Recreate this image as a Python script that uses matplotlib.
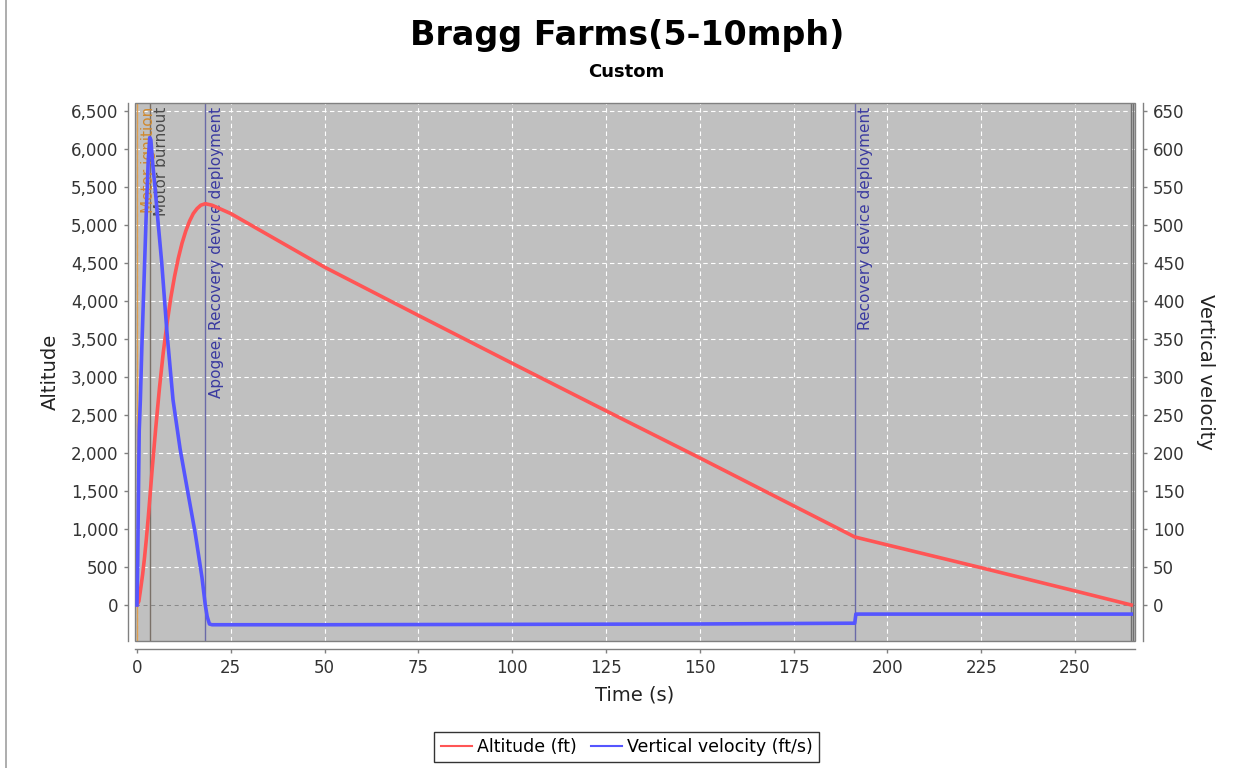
import numpy as np
import matplotlib
matplotlib.use('Agg')
import matplotlib.pyplot as plt
from matplotlib.ticker import FuncFormatter, MultipleLocator
from matplotlib.patches import Rectangle
from matplotlib.lines import Line2D

plt.rcParams['font.family'] = ['DejaVu Sans']

# altitude (ft)
alt_t = [0, 0.5, 1.0, 1.5, 2.0, 2.5, 3.0, 3.5, 4.0, 5.0, 6.0, 7.0, 8.0, 9.0, 10.0, 11.0,
         12.0, 13.0, 14.0, 15.0, 16.0, 17.0, 18.2, 20, 25, 50, 75, 100, 125, 150, 175,
         191.3, 200, 225, 250, 265]
alt_ft = [0, 50, 220, 400, 620, 870, 1150, 1450, 1760, 2330, 2860, 3320, 3700, 4040, 4320, 4560,
          4760, 4920, 5050, 5150, 5215, 5260, 5280, 5260, 5150, 4445, 3810, 3180, 2555, 1935, 1305,
          895, 790, 490, 185, 0]

# vertical velocity (ft/s)
vel_t = [0, 0.2, 0.4, 0.6, 0.9, 1.3, 1.7, 2.1, 2.5, 3.0, 3.4, 3.7, 4.2, 4.8, 5.5, 6.6, 8.0,
         9.6, 11.5, 13.6, 15.5, 17.3, 18.2, 18.7, 19.3, 20, 50, 100, 150, 190, 191.3, 191.6,
         192, 265]
vel_fps = [0, 60, 150, 230, 270, 340, 400, 460, 520, 585, 615, 612, 580, 550, 510, 450, 358,
           270, 205, 147, 95, 37, 0, -15, -25, -26, -26, -25.5, -25, -24, -24, -12,
           -12, -12]

# flight events
ev_t = [0.0, 3.5, 18.2, 191.3, 265.0, 265.6]
ev_names = ['Motor ignition', 'Motor burnout', 'Apogee, Recovery device deployment',
            'Recovery device deployment', '', '']
ev_line_col = ['#e0a050', '#7a7068', '#6a6aa8', '#6a6aa8', '#707070', '#707070']
ev_text_col = ['#d08a30', '#4a4a4a', '#3a3aa0', '#3a3aa0', '#4a4a4a', '#4a4a4a']

fig = plt.figure(figsize=(12.41, 7.68), dpi=100)
W, H = 1241, 768
ax = fig.add_axes([135 / W, 1 - 641 / H, 1000 / W, 538 / H])
ax2 = ax.twinx()

ax.set_facecolor('#c0c0c0')
ax.set_xlim(-0.53, 266.0)
ax.set_ylim(-474, 6605)
ax2.set_ylim(-47.4, 660.5)

ax.xaxis.set_major_locator(MultipleLocator(25))
ax.yaxis.set_major_locator(MultipleLocator(500))
ax2.yaxis.set_major_locator(MultipleLocator(50))
ax.yaxis.set_major_formatter(FuncFormatter(lambda v, p: '{:,.0f}'.format(v)))
ax2.set_yticks(np.arange(0, 651, 50))

ax.grid(True, color='white', linestyle=(0, (4, 3)), linewidth=0.8)
ax.set_axisbelow(True)
ax.axhline(0, color='#8a8a8a', linestyle=(0, (4, 3)), linewidth=0.8, zorder=1)

for t, name, lc, tc in zip(ev_t, ev_names, ev_line_col, ev_text_col):
    ax.axvline(t, color=lc, linewidth=1.0, zorder=1.5)
    if name:
        ax.text(t + 1.0, 6560, name, rotation=90, ha='left', va='top', color=tc,
                fontsize=11, zorder=1.6)

ax.plot(alt_t, alt_ft, color='#ff5555', linewidth=2.6, zorder=3)
ax2.plot(vel_t, vel_fps, color='#5555ff', linewidth=2.6, zorder=3)

for a in (ax, ax2):
    for s in a.spines.values():
        s.set_visible(False)
ax.spines['left'].set_visible(True)
ax.spines['left'].set_position(('outward', 5))
ax.spines['bottom'].set_visible(True)
ax.spines['bottom'].set_position(('outward', 6))
ax2.spines['right'].set_visible(True)
ax2.spines['right'].set_position(('outward', 6))
for s in (ax.spines['left'], ax.spines['bottom'], ax2.spines['right']):
    s.set_color('#808080')
    s.set_linewidth(1.0)

ax.tick_params(axis='both', colors='#808080', labelcolor='#333333', labelsize=12,
               length=3, width=1, pad=4)
ax2.tick_params(axis='y', colors='#808080', labelcolor='#333333', labelsize=12,
                length=3, width=1, pad=4)

ax.add_patch(Rectangle((0, 0), 1, 1, transform=ax.transAxes, fill=False,
                       edgecolor='#808080', linewidth=1.0, clip_on=False, zorder=5))

ax.set_xlabel('Time (s)', fontsize=14, color='#222222', labelpad=6)
ax.set_ylabel('Altitude', fontsize=14, color='#222222', labelpad=8)
ax2.set_ylabel('Vertical velocity', fontsize=14, color='#222222', rotation=270,
               labelpad=22)

fig.text(0.505, 1 - 35 / H, 'Bragg Farms(5-10mph)', ha='center', va='center',
         fontsize=24, fontweight='bold')
fig.text(0.505, 1 - 72 / H, 'Custom', ha='center', va='center', fontsize=13,
         fontweight='bold')

handles = [Line2D([], [], color='#ff5555', linewidth=1.5),
           Line2D([], [], color='#5555ff', linewidth=1.5)]
leg = fig.legend(handles, ['Altitude (ft)', 'Vertical velocity (ft/s)'], loc='center',
                 bbox_to_anchor=(0.505, 1 - 747 / H), ncol=2, fontsize=12.5,
                 frameon=True, fancybox=False, handlelength=1.8, handletextpad=0.3,
                 columnspacing=0.8, borderpad=0.35)
leg.get_frame().set_edgecolor('black')
leg.get_frame().set_linewidth(1.0)

fig.add_artist(Line2D([6 / W, 6 / W], [0, 1], color='#a0a0a0', linewidth=1.2))

fig.savefig('out.png', dpi=100)
